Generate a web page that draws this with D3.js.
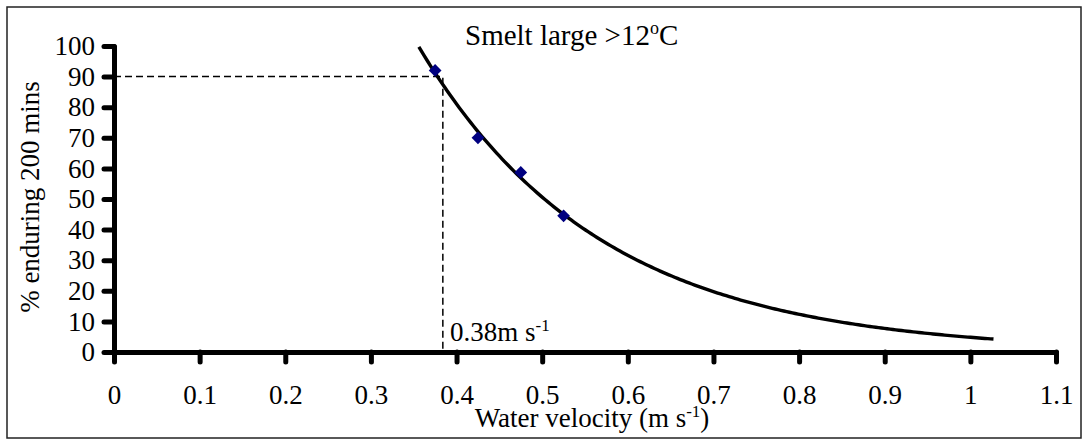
<!DOCTYPE html>
<html>
<head>
<meta charset="utf-8">
<script src="https://cdn.jsdelivr.net/npm/d3@7"></script>
<style>
  html, body { margin: 0; padding: 0; background: #fff; }
  svg { display: block; }
</style>
</head>
<body>
<svg id="chart" width="1088" height="445"></svg>
<script>
// ---- data ----
const velocity = [0.375, 0.425, 0.475, 0.525];      // m s-1
const endurance = [92, 70, 58.7, 44.5];             // % enduring 200 mins
const xTickValues = [0, 0.1, 0.2, 0.3, 0.4, 0.5, 0.6, 0.7, 0.8, 0.9, 1, 1.1];
const yTickValues = [0, 10, 20, 30, 40, 50, 60, 70, 80, 90, 100];
const refPercent = 90;
const refVelocity = 0.384;
const refLabel = "0.38m s";
const trendRange = [0.356, 1.027];
const titleMain = "Smelt large >12";
const xLabelMain = "Water velocity (m s";
const yLabel = "% enduring 200 mins";

const FONT = "'Liberation Serif', 'Times New Roman', Times, 'DejaVu Serif', serif";
const svg = d3.select("#chart").style("font-family", FONT);
const x = d3.scaleLinear().domain([0, 1.1]).range([114, 1056]);
const y = d3.scaleLinear().domain([0, 100]).range([352, 46]);
const FS = 27;

svg.append("rect").attr("x", 7).attr("y", 7).attr("width", 1074).attr("height", 431)
  .attr("fill", "none").attr("stroke", "#222").attr("stroke-width", 1.5);

// exponential trendline fitted (least squares on ln y) to the data
const lny = endurance.map(Math.log);
const mx = d3.mean(velocity), my = d3.mean(lny);
const b = d3.sum(velocity.map((v, i) => (v - mx) * (lny[i] - my))) / d3.sum(velocity.map(v => (v - mx) ** 2));
const a = Math.exp(my - b * mx);
const trend = d3.range(0, 201).map(i => {
  const v = trendRange[0] + (trendRange[1] - trendRange[0]) * i / 200;
  return [v, a * Math.exp(b * v)];
});

svg.append("path")
  .attr("d", `M${x(0)},${y(refPercent)}H${x(refVelocity)}V${y(0)}`)
  .attr("fill", "none").attr("stroke", "#000").attr("stroke-width", 1.5)
  .attr("stroke-dasharray", "7,4");

const xAxis = d3.axisBottom(x).tickValues(xTickValues).tickSize(10).tickSizeOuter(0)
  .tickPadding(23).tickFormat(d => String(+d.toFixed(1)));
const gx = svg.append("g").attr("transform", `translate(0,${y(0)})`).call(xAxis);
const yAxis = d3.axisLeft(y).tickValues(yTickValues).tickSize(10).tickSizeOuter(0).tickPadding(9);
const gy = svg.append("g").attr("transform", `translate(${x(0)},0)`).call(yAxis);
[gx, gy].forEach(g => {
  g.attr("font-family", null).attr("font-size", null);
  g.selectAll("path.domain").attr("stroke", "#000").attr("stroke-width", 5).attr("stroke-linecap", "round");
  g.selectAll(".tick line").attr("stroke", "#000").attr("stroke-width", 5).attr("stroke-linecap", "round");
  g.selectAll(".tick text").style("font-family", FONT).attr("font-size", FS).attr("fill", "#000");
});

svg.append("path").datum(trend)
  .attr("d", d3.line().x(d => x(d[0])).y(d => y(d[1])))
  .attr("fill", "none").attr("stroke", "#000").attr("stroke-width", 3.4);

svg.append("g").selectAll("path").data(velocity).join("path")
  .attr("transform", (v, i) => `translate(${x(v)},${y(endurance[i])}) rotate(45)`)
  .attr("d", "M-4.5,-4.5H4.5V4.5H-4.5Z")
  .attr("fill", "#000080");

const t = svg.append("text").attr("x", 465).attr("y", 45).attr("font-size", 29).style("font-family", FONT);
t.append("tspan").text(titleMain);
t.append("tspan").attr("dy", -11).attr("font-size", 18).text("o");
t.append("tspan").attr("dy", 11).text("C");

const r = svg.append("text").attr("x", 450).attr("y", 341).attr("font-size", FS).style("font-family", FONT);
r.append("tspan").text(refLabel);
r.append("tspan").attr("dy", -10).attr("font-size", 17).text("-1");

const xl = svg.append("text").attr("x", 592).attr("y", 427).attr("font-size", FS)
  .attr("text-anchor", "middle").style("font-family", FONT);
xl.append("tspan").text(xLabelMain);
xl.append("tspan").attr("dy", -10).attr("font-size", 17).text("-1");
xl.append("tspan").attr("dy", 10).text(")");

svg.append("text").attr("transform", "translate(39,197) rotate(-90)").style("font-family", FONT)
  .attr("text-anchor", "middle").attr("font-size", FS).text(yLabel);
</script>
</body>
</html>
